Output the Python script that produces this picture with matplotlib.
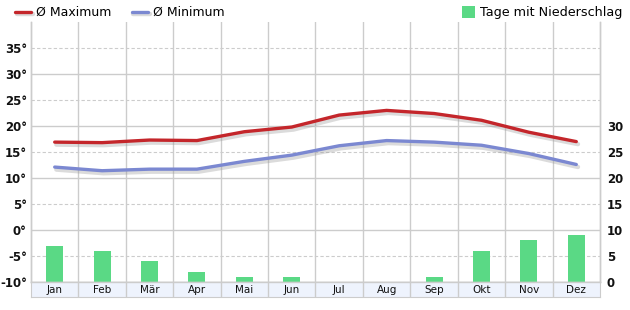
import matplotlib
matplotlib.use("Agg")
import matplotlib.pyplot as plt
import matplotlib.patheffects as pe
from matplotlib.lines import Line2D
from matplotlib.patches import Patch
import numpy as np

months = ["Jan", "Feb", "Mär", "Apr", "Mai", "Jun", "Jul", "Aug", "Sep", "Okt", "Nov", "Dez"]
t_max = [16.9, 16.8, 17.3, 17.2, 18.9, 19.8, 22.1, 23.0, 22.4, 21.1, 18.8, 17.0]
t_min = [12.1, 11.4, 11.7, 11.7, 13.2, 14.4, 16.2, 17.2, 16.9, 16.3, 14.7, 12.6]
rain_days = [7, 6, 4, 2, 1, 1, 0, 0, 1, 6, 8, 9]
left_ticks = [-10, -5, 0, 5, 10, 15, 20, 25, 30, 35]
right_ticks = [0, 5, 10, 15, 20, 25, 30]

RED = "#c4262b"
BLUE = "#7b88d1"
GREEN = "#5ad985"
GRID = "#cccccc"

fig = plt.figure(figsize=(6.3, 3.1), dpi=100)
ax = fig.add_axes([31/630, 1-282/310, 569/630, 260/310])
ax2 = ax.twinx()
strip = fig.add_axes([31/630, 1-297/310, 569/630, 15/310])

x = np.arange(len(months))

# bars on right axis
ax2.bar(x, rain_days, width=0.36, color=GREEN, zorder=2)
ax2.set_ylim(0, 50)
ax2.set_yticks(right_ticks)
ax2.set_yticklabels([str(v) for v in right_ticks], fontsize=8.5, fontweight="bold", color="#111111")
ax2.tick_params(axis="y", length=0, pad=5)

ax.set_zorder(ax2.get_zorder() + 1)
ax.patch.set_visible(False)

shadow = [pe.SimpleLineShadow(offset=(1.2, -1.8), shadow_color="#999999", alpha=0.35, linewidth=3.2), pe.Normal()]
lmax, = ax.plot(x, t_max, color=RED, lw=2.4, solid_capstyle="round", solid_joinstyle="round",
                path_effects=shadow, zorder=3)
lmin, = ax.plot(x, t_min, color=BLUE, lw=2.4, solid_capstyle="round", solid_joinstyle="round",
                path_effects=shadow, zorder=3)

ax.set_xlim(-0.5, 11.5)
ax.set_ylim(-10, 40)
ax.set_yticks(left_ticks)
ax.set_yticklabels([f"{v}°" for v in left_ticks], fontsize=8.5, fontweight="bold", color="#111111")
ax.tick_params(axis="y", length=0, pad=3)
ax.set_xticks([])
ax2.set_xticks([])

# grid lines
for v in left_ticks:
    if v % 10 == 0:
        ax2.axhline((v + 10), color=GRID, lw=1, zorder=0)
    else:
        ax2.axhline((v + 10), color=GRID, lw=0.8, ls=(0, (3, 2)), zorder=0)
for b in np.arange(0.5, 11.5, 1):
    ax2.axvline(b, color=GRID, lw=1, zorder=0)

for a in (ax, ax2):
    for s in a.spines.values():
        s.set_color(GRID)
        s.set_linewidth(1)
ax.spines["top"].set_visible(False)
ax2.spines["top"].set_visible(False)

# category strip
strip.set_xlim(-0.5, 11.5)
strip.set_ylim(0, 1)
strip.set_facecolor("#eef3fd")
for b in np.arange(0.5, 11.5, 1):
    strip.axvline(b, color=GRID, lw=1)
for i, m in enumerate(months):
    strip.text(i, 0.45, m, ha="center", va="center", fontsize=7.5, color="#111111")
strip.set_xticks([])
strip.set_yticks([])
for s in strip.spines.values():
    s.set_color(GRID)
strip.spines["top"].set_visible(False)

# legends
h1 = Line2D([], [], color=RED, lw=2.4, solid_capstyle="round", path_effects=shadow)
h2 = Line2D([], [], color=BLUE, lw=2.4, solid_capstyle="round", path_effects=shadow)
leg1 = fig.legend([h1, h2], ["Ø Maximum", "Ø Minimum"], loc="upper left", bbox_to_anchor=(0.012, 1.005),
                  ncol=2, frameon=False, fontsize=9.0, handlelength=1.3, handletextpad=0.4,
                  columnspacing=1.6, borderaxespad=0.2)
h3 = Patch(facecolor=GREEN, edgecolor="none")
leg2 = fig.legend([h3], ["Tage mit Niederschlag"], loc="upper right", bbox_to_anchor=(1.0, 1.005),
                  frameon=False, fontsize=9.2, handlelength=1.0, handleheight=1.0, handletextpad=0.4,
                  borderaxespad=0.2)

fig.savefig("out.png", dpi=100)
